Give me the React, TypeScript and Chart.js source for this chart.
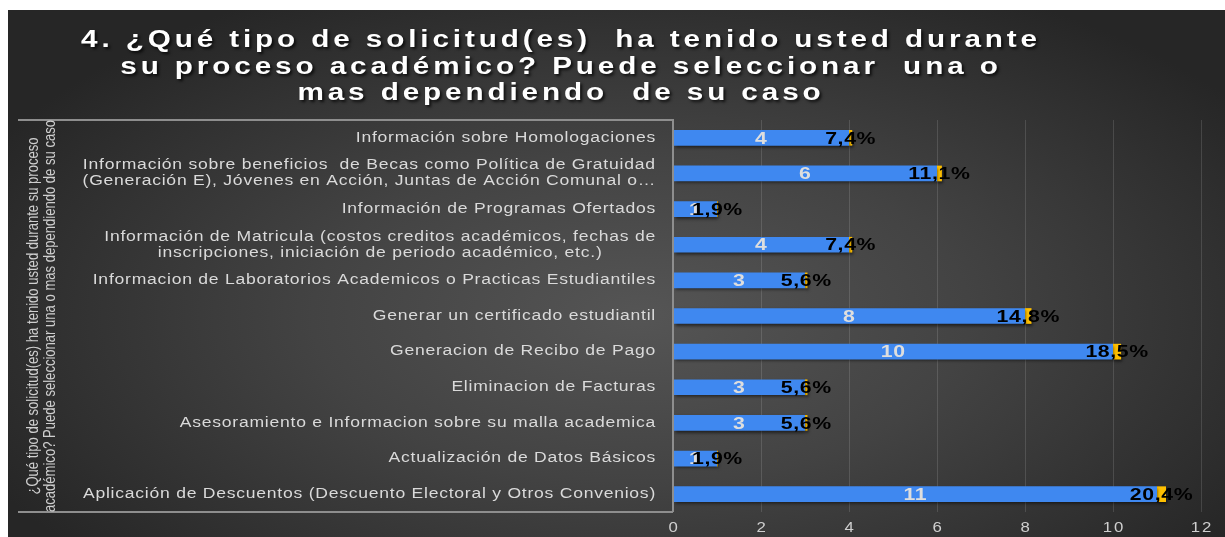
import React, { useEffect, useRef } from "react";
import { Chart, registerables } from "chart.js";

Chart.register(...registerables);

const titleLines = [
  "4. ¿Qué tipo de solicitud(es)  ha tenido usted durante",
  "su proceso académico? Puede seleccionar  una o",
  "mas dependiendo  de su caso",
];

const axisTitleLines = [
  "¿Qué tipo de solicitud(es) ha tenido usted durante su proceso",
  "académico? Puede seleccionar una o mas dependiendo de su caso",
];

const categories: (string | string[])[] = [
  "Información sobre Homologaciones",
  [
    "Información sobre beneficios  de Becas como Política de Gratuidad",
    "(Generación E), Jóvenes en Acción, Juntas de Acción Comunal o…",
  ],
  "Información de Programas Ofertados",
  [
    "Información de Matricula (costos creditos académicos, fechas de",
    "inscripciones, iniciación de periodo académico, etc.)",
  ],
  "Informacion de Laboratorios Academicos o Practicas Estudiantiles",
  "Generar un certificado estudiantil",
  "Generacion de Recibo de Pago",
  "Eliminacion de Facturas",
  "Asesoramiento e Informacion sobre su malla academica",
  "Actualización de Datos Básicos",
  "Aplicación de Descuentos (Descuento Electoral y Otros Convenios)",
];

const counts = [4, 6, 1, 4, 3, 8, 10, 3, 3, 1, 11];
const percents = [7.4, 11.1, 1.9, 7.4, 5.6, 14.8, 18.5, 5.6, 5.6, 1.9, 20.4];
const xTicks = [0, 2, 4, 6, 8, 10, 12];

const SANS = "'Liberation Sans', Arial, sans-serif";

function textW(ctx: CanvasRenderingContext2D, s: string) {
  return ctx.measureText(s).width;
}

function drawS(
  ctx: CanvasRenderingContext2D,
  s: string,
  x: number,
  y: number,
  align: "left" | "center" | "right",
  sx: number
) {
  ctx.save();
  ctx.translate(x, y);
  ctx.scale(sx, 1);
  ctx.textAlign = align;
  ctx.fillText(s, 0, 0);
  ctx.restore();
}

const drawPlugin = {
  id: "customDraw",
  beforeDatasetsDraw(chart: any) {
    const ctx: CanvasRenderingContext2D = chart.ctx;
    ctx.save();
    ctx.shadowColor = "rgba(0,0,0,0.55)";
    ctx.shadowOffsetY = 2;
    ctx.shadowOffsetX = 1;
    ctx.shadowBlur = 3;
  },
  afterDatasetsDraw(chart: any) {
    const ctx: CanvasRenderingContext2D = chart.ctx;
    ctx.restore();
    const area = chart.chartArea;
    const yScale = chart.scales.y;
    const xScale = chart.scales.x;

    // label box lines
    const top = Math.round(area.top);
    const bottom = Math.round(area.bottom);
    const left = Math.round(area.left);
    ctx.save();
    ctx.fillStyle = "#8e8e8e";
    ctx.fillRect(10, top - 1, left - 10, 2);
    ctx.fillRect(10, bottom - 1, left - 10, 2);
    ctx.fillRect(left - 1, top - 1, 2, bottom - top + 1);
    ctx.restore();

    // title
    ctx.save();
    ctx.fillStyle = "#ffffff";
    ctx.font = `bold 23px ${SANS}`;
    ctx.textBaseline = "middle";
    ctx.letterSpacing = "3px";
    ctx.shadowColor = "rgba(0,0,0,0.75)";
    ctx.shadowOffsetX = 2;
    ctx.shadowOffsetY = 2;
    ctx.shadowBlur = 3;
    const tsx = 960 / textW(ctx, titleLines[0]);
    const titleY = [31, 58, 84];
    titleLines.forEach((l, i) => drawS(ctx, l, 553, titleY[i], "center", tsx));
    ctx.restore();

    // axis title (rotated)
    ctx.save();
    ctx.fillStyle = "#cfcfcf";
    ctx.font = `17px ${SANS}`;
    ctx.textBaseline = "middle";
    ctx.textAlign = "center";
    const asx = 392 / textW(ctx, axisTitleLines[1]);
    const cy = (area.top + area.bottom) / 2;
    const axX = [25, 42];
    axisTitleLines.forEach((l, i) => {
      ctx.save();
      ctx.translate(axX[i], cy);
      ctx.rotate(-Math.PI / 2);
      ctx.scale(asx, 1);
      ctx.fillText(l, 0, 0);
      ctx.restore();
    });
    ctx.restore();

    // category labels
    ctx.save();
    ctx.fillStyle = "#dadada";
    ctx.font = `14px ${SANS}`;
    ctx.textBaseline = "middle";
    ctx.letterSpacing = "0.6px";
    const csx = 573 / textW(ctx, categories[10] as string);
    const right = area.left - 17;
    categories.forEach((c, i) => {
      const lines = Array.isArray(c) ? c : [c];
      const y = yScale.getPixelForValue(i);
      const widths = lines.map((l) => textW(ctx, l) * csx);
      const bw = Math.max(...widths);
      const cx = right - bw / 2;
      const lh = 16;
      lines.forEach((l, j) => {
        const ly = y + (j - (lines.length - 1) / 2) * lh;
        drawS(ctx, l, cx, ly, "center", csx);
      });
    });
    ctx.restore();

    // x tick labels
    ctx.save();
    ctx.fillStyle = "#cfcfcf";
    ctx.font = `14px ${SANS}`;
    ctx.textBaseline = "middle";
    ctx.letterSpacing = "1.5px";
    xTicks.forEach((t) => {
      drawS(ctx, String(t), xScale.getPixelForValue(t) + 1, area.bottom + 16, "center", 1.2);
    });
    ctx.restore();

    // bar labels
    const m0 = chart.getDatasetMeta(0);
    const m1 = chart.getDatasetMeta(1);
    ctx.save();
    ctx.textBaseline = "middle";
    ctx.font = `bold 17px ${SANS}`;
    ctx.letterSpacing = "0.5px";
    ctx.fillStyle = "#dedede";
    m0.data.forEach((el: any, i: number) => {
      drawS(ctx, String(counts[i]), (el.x + el.base) / 2, el.y + 1, "center", 1.25);
    });
    ctx.fillStyle = "#000000";
    m1.data.forEach((el: any, i: number) => {
      const label = percents[i].toFixed(1).replace(".", ",") + "%";
      drawS(ctx, label, (el.x + el.base) / 2, el.y + 1, "center", 1.25);
    });
    ctx.restore();
  },
};

export default function App() {
  const ref = useRef<HTMLCanvasElement>(null);
  useEffect(() => {
    document.body.style.margin = "0";
    document.body.style.overflow = "hidden";
    const chart = new Chart(ref.current!, {
      type: "bar",
      data: {
        labels: categories as any,
        datasets: [
          {
            label: "Cantidad",
            data: counts,
            backgroundColor: "#3f88f0",
            barPercentage: 0.44,
            categoryPercentage: 1,
          },
          {
            label: "Porcentaje",
            data: percents.map((p) => p / 100),
            backgroundColor: "#ffc000",
            barPercentage: 0.44,
            categoryPercentage: 1,
          },
        ],
      },
      options: {
        indexAxis: "y",
        animation: false,
        responsive: true,
        maintainAspectRatio: false,
        layout: { padding: { left: 665, right: 24, top: 110, bottom: 25 } },
        plugins: {
          legend: { display: false },
          tooltip: { enabled: false },
          title: { display: false },
        },
        scales: {
          x: {
            stacked: true,
            min: 0,
            max: 12,
            ticks: { display: false, stepSize: 2 },
            grid: { color: "rgba(255,255,255,0.13)", drawTicks: false },
            border: { display: false },
          },
          y: {
            stacked: true,
            display: false,
          },
        },
      },
      plugins: [drawPlugin],
    });
    return () => chart.destroy();
  }, []);
  return (
    <div
      style={{
        position: "absolute",
        left: 8,
        top: 10,
        width: 1217,
        height: 527,
        background:
          "radial-gradient(ellipse 60% 70% at 52% 58%, #555555 0%, #434343 45%, #2e2e2e 85%, #262626 100%)",
      }}
    >
      <canvas ref={ref} />
    </div>
  );
}
